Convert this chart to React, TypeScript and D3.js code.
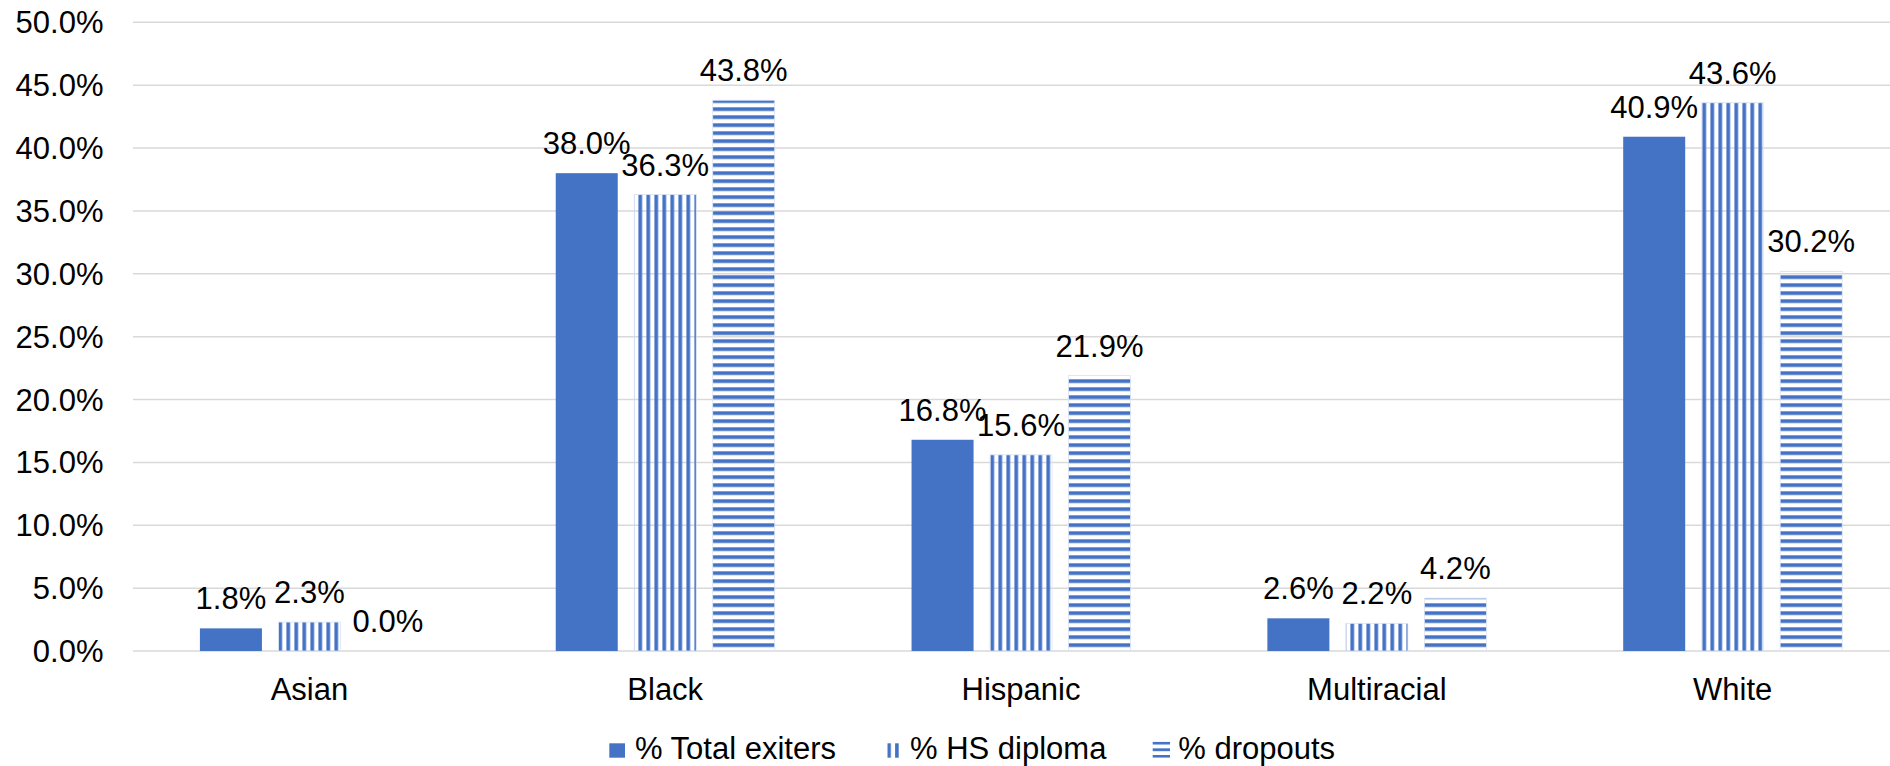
import React from "react";
import * as d3 from "d3";

// Share of each group, by race/ethnicity (percent)
const categories = ["Asian", "Black", "Hispanic", "Multiracial", "White"];
const totalExiters = [1.8, 38.0, 16.8, 2.6, 40.9];
const hsDiploma = [2.3, 36.3, 15.6, 2.2, 43.6];
const dropouts = [0.0, 43.8, 21.9, 4.2, 30.2];
const seriesNames = ["% Total exiters", "% HS diploma", "% dropouts"];
const seriesKeys = ["total", "hs", "drop"];
const yMax = 50;

const W = 1890;
const H = 766;
const BLUE = "#4472C4";
const FONT = "'Liberation Sans', Arial, sans-serif";
const FS = 31;

export default function App() {
  const y = d3.scaleLinear().domain([0, yMax]).range([651, 22.3]);
  const x0 = d3.scaleBand<string>().domain(categories).range([131.5, 1910.6]).padding(0);
  const groupW = 219;
  const x1 = d3.scaleBand<string>().domain(seriesKeys).range([0, groupW]).paddingInner(0.21).paddingOuter(0);
  const bw = x1.bandwidth();
  const groupStart = (c: string) => (x0(c) as number) + (x0.bandwidth() - groupW) / 2;

  const rows = categories.map((c, i) => ({
    cat: c,
    values: [
      { key: "total", v: totalExiters[i] },
      { key: "hs", v: hsDiploma[i] },
      { key: "drop", v: dropouts[i] },
    ],
  }));

  const fillFor = (k: string) =>
    k === "total" ? BLUE : k === "hs" ? "url(#vstripe)" : "url(#hstripe)";

  const vPhase = groupStart(categories[0]) + (x1("hs") as number);
  const hPhase = y(0) - 7.7;
  const ticks = y.ticks(10);
  const fmt = d3.format(".1f");

  const legend = [
    { name: seriesNames[0], key: "total", sx: 609.3, sy: 743.3, sw: 15.7, sh: 14.4, tx: 635 },
    { name: seriesNames[1], key: "hs", sx: 887.3, sy: 743.3, sw: 11.7, sh: 14.4, tx: 910 },
    { name: seriesNames[2], key: "drop", sx: 1152.7, sy: 741.7, sw: 17.3, sh: 16, tx: 1178.3 },
  ];

  return (
    <svg
      width={W}
      height={H}
      style={{ position: "absolute", left: 0, top: 0, display: "block", background: "#fff" }}
      fontFamily={FONT}
    >
      <defs>
        <pattern id="vstripe" patternUnits="userSpaceOnUse" x={vPhase} y={0} width={8} height={8}>
          <rect x={0} y={0} width={3.7} height={8} fill={BLUE} />
        </pattern>
        <pattern id="hstripe" patternUnits="userSpaceOnUse" x={0} y={hPhase} width={8} height={8}>
          <rect x={0} y={0} width={8} height={3.7} fill={BLUE} />
        </pattern>
        <pattern id="legV" patternUnits="userSpaceOnUse" x={887.3} y={0} width={7.8} height={8}>
          <rect x={0} y={0} width={3.6} height={8} fill={BLUE} />
        </pattern>
        <pattern id="legH" patternUnits="userSpaceOnUse" x={0} y={741.7} width={8} height={6.65}>
          <rect x={0} y={0} width={8} height={2.8} fill={BLUE} />
        </pattern>
      </defs>

      {/* gridlines and y-axis labels */}
      {ticks.map((t) => (
        <g key={t}>
          <line x1={133} x2={W} y1={y(t)} y2={y(t)} stroke="#d9d9d9" strokeWidth={1.5} />
          <text x={103.5} y={y(t) + 11} textAnchor="end" fontSize={FS} fill="#000">
            {fmt(t)}%
          </text>
        </g>
      ))}

      {/* bars */}
      {rows.map((r) => (
        <g key={r.cat}>
          {r.values.map((d) => {
            const bx = groupStart(r.cat) + (x1(d.key) as number);
            const top = y(d.v);
            return (
              <g key={d.key}>
                <rect
                  x={bx}
                  y={top}
                  width={bw}
                  height={y(0) - top}
                  fill={fillFor(d.key)}
                  stroke={d.key === "total" ? "none" : "#dbe4f4"}
                  strokeWidth={d.key === "total" ? 0 : 0.8}
                />
                <text x={bx + bw / 2} y={top - 19} textAnchor="middle" fontSize={FS} fill="#000">
                  {fmt(d.v)}%
                </text>
              </g>
            );
          })}
        </g>
      ))}

      {/* category labels */}
      {categories.map((c) => (
        <text
          key={c}
          x={(x0(c) as number) + x0.bandwidth() / 2}
          y={700}
          textAnchor="middle"
          fontSize={FS}
          fill="#000"
        >
          {c}
        </text>
      ))}

      {/* legend */}
      {legend.map((l) => (
        <g key={l.key}>
          <rect
            x={l.sx}
            y={l.sy}
            width={l.sw}
            height={l.sh}
            fill={l.key === "total" ? BLUE : l.key === "hs" ? "url(#legV)" : "url(#legH)"}
          />
          <text x={l.tx} y={759} fontSize={FS} fill="#000">
            {l.name}
          </text>
        </g>
      ))}
    </svg>
  );
}
